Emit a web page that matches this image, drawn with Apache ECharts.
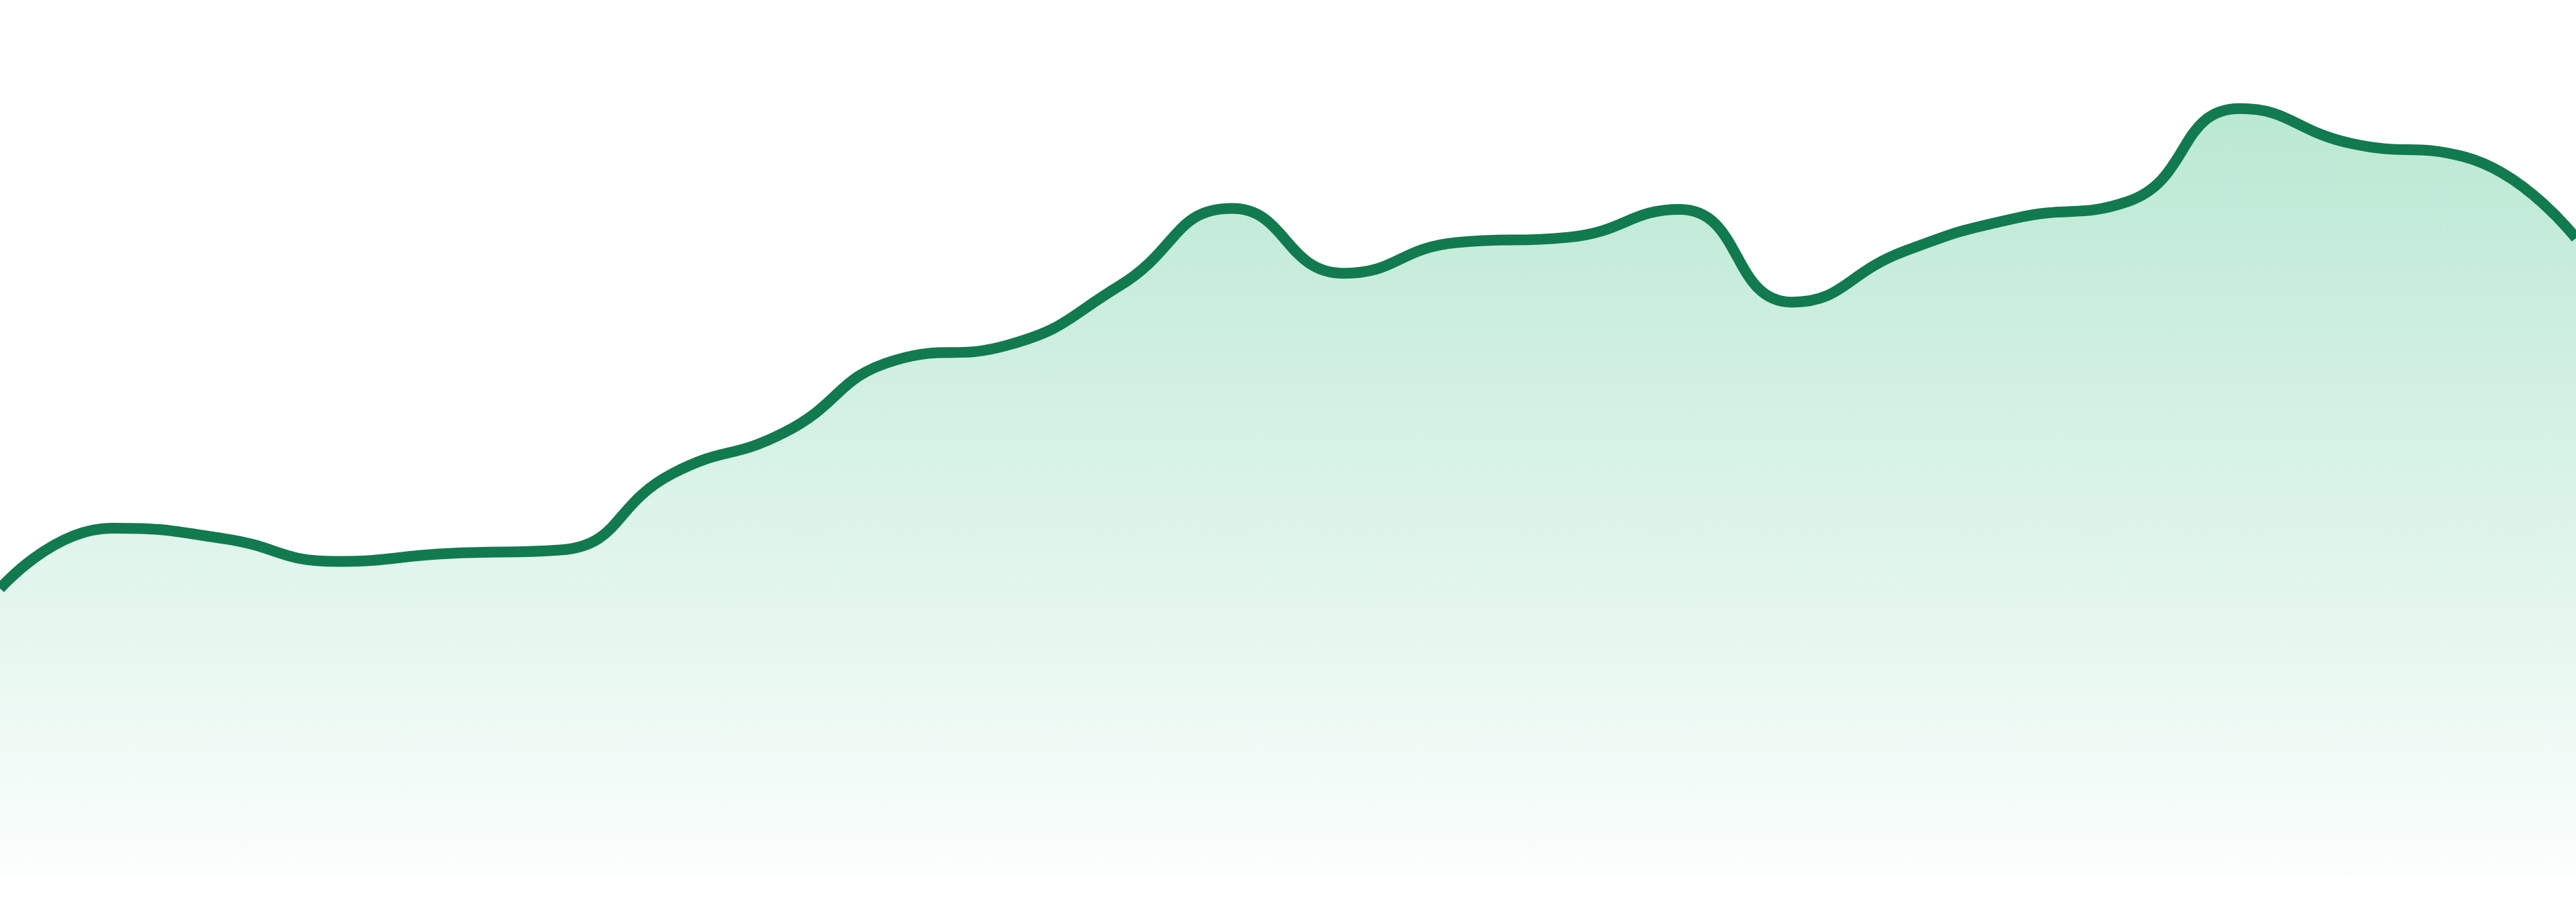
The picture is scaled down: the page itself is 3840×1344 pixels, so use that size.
<!DOCTYPE html>
<html>
<head>
<meta charset="utf-8">
<title>trend</title>
<script src="https://cdn.jsdelivr.net/npm/echarts@6/dist/echarts.min.js"></script>
<style>
  html, body { margin: 0; padding: 0; background: #fff; }
  #chart { width: 3840px; height: 1344px; }
</style>
</head>
<body>
<div id="chart"></div>
<script>
// 24 hourly buckets
var hours = ['00:00', '01:00', '02:00', '03:00', '04:00', '05:00', '06:00', '07:00',
             '08:00', '09:00', '10:00', '11:00', '12:00', '13:00', '14:00', '15:00',
             '16:00', '17:00', '18:00', '19:00', '20:00', '21:00', '22:00', '23:00'];
var values = [32.8, 39.7, 38.5, 35.9, 36.8, 37.2, 45.9, 50.6,
              58.9, 60.6, 67.4, 76.2, 68.8, 72.3, 72.9, 76.1,
              65.5, 71.3, 75.1, 77.0, 87.6, 83.6, 82.1, 72.8];

var myChart = echarts.init(document.getElementById('chart'));

var option = {
    animation: false,
    grid: {
        left: 0,
        right: 0,
        top: 0,
        bottom: 39
    },
    xAxis: {
        type: 'category',
        boundaryGap: false,
        data: hours,
        show: false
    },
    yAxis: {
        type: 'value',
        min: 0,
        max: 100,
        show: false
    },
    series: [
        {
            type: 'line',
            data: values,
            smooth: true,
            symbol: 'none',
            lineStyle: {
                color: '#127a4f',
                width: 16
            },
            areaStyle: {
                opacity: 1,
                color: new echarts.graphic.LinearGradient(0, 0, 0, 1, [
                    { offset: 0, color: '#bae8d3' },
                    { offset: 1, color: '#fbfefd' }
                ])
            }
        }
    ]
};

myChart.setOption(option);
window.addEventListener('resize', myChart.resize);
</script>
</body>
</html>
